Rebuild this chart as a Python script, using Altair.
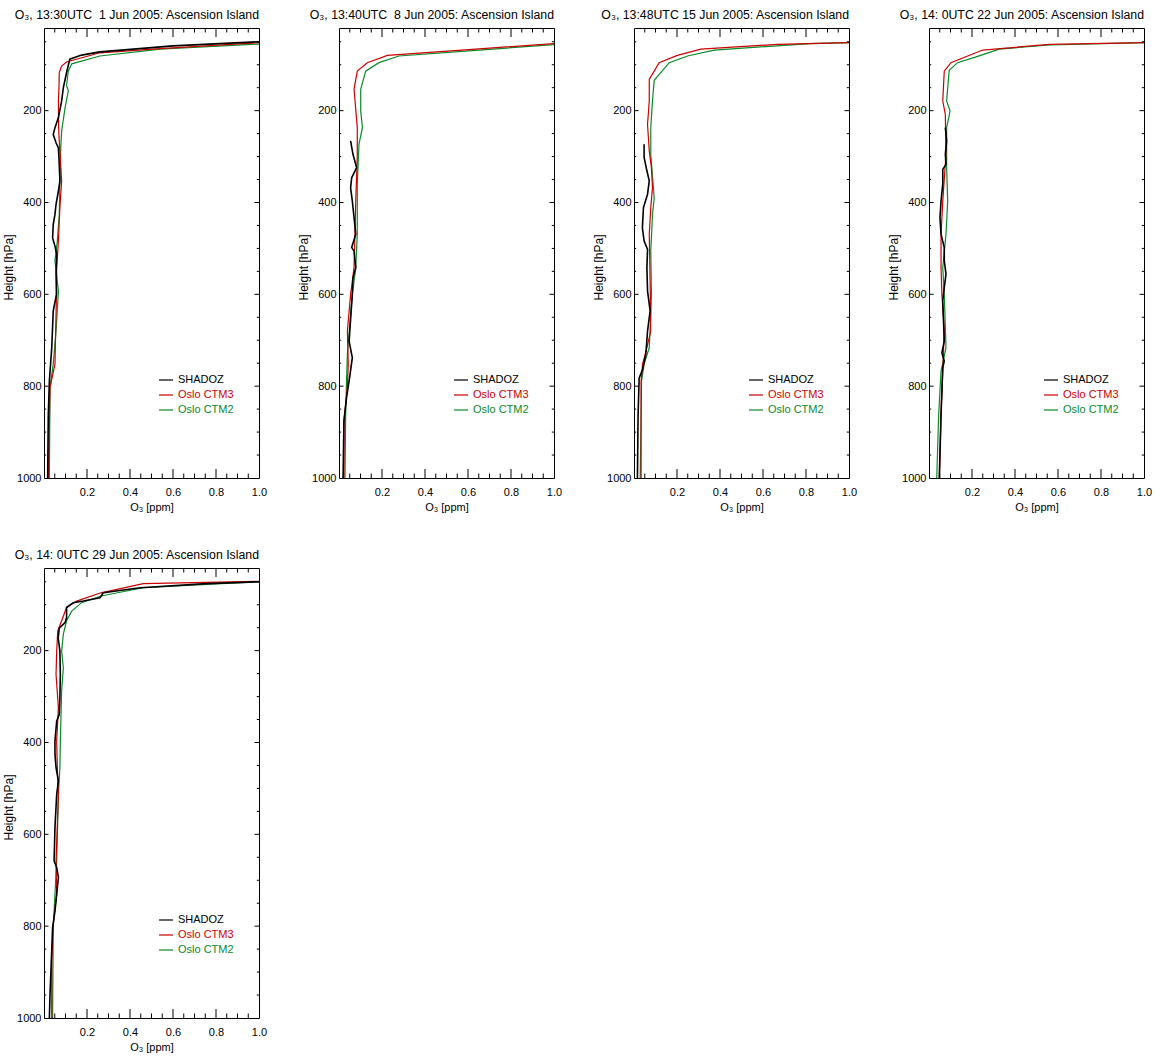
import altair as alt
import pandas as pd

FONT = "Liberation Sans"
SERIES = ["SHADOZ", "Oslo CTM3", "Oslo CTM2"]
COLORS = ["#000000", "#cc0000", "#0a8a2a"]
LINE_WIDTHS = [1.6, 1.2, 1.2]

# day numbers are right-aligned in a two-character field, hence the padded space
TITLES = [
    "O\u2083, 13:30UTC \u00a01 Jun 2005: Ascension Island",
    "O\u2083, 13:40UTC \u00a08 Jun 2005: Ascension Island",
    "O\u2083, 13:48UTC 15 Jun 2005: Ascension Island",
    "O\u2083, 14: 0UTC 22 Jun 2005: Ascension Island",
    "O\u2083, 14: 0UTC 29 Jun 2005: Ascension Island",
]

X_MAJOR = [0.2, 0.4, 0.6, 0.8]
X_MINOR = [0.05, 0.1, 0.15, 0.25, 0.3, 0.35, 0.45, 0.5, 0.55,
           0.65, 0.7, 0.75, 0.85, 0.9, 0.95]
X_LABELS = [0.2, 0.4, 0.6, 0.8, 1.0]
Y_MAJOR = [200, 400, 600, 800]
Y_MINOR = [50, 100, 150, 250, 300, 350, 450, 500, 550, 650, 700, 750,
           850, 900, 950]
Y_LABELS = [200, 400, 600, 800, 1000]

# ---- 1 Jun 2005 ----
p1_shadoz_hpa = [50, 59, 72, 79, 88, 117, 150, 179, 215, 237, 252, 270, 281, 317,
                 353, 375, 404, 426, 448, 477, 495, 513, 556, 600, 636, 716, 789, 861, 1000]
p1_shadoz_o3 = [1.0, 0.60, 0.26, 0.175, 0.12, 0.105, 0.09, 0.082, 0.067, 0.051, 0.043,
                0.056, 0.067, 0.071, 0.074, 0.067, 0.056, 0.051, 0.043, 0.040, 0.051,
                0.059, 0.056, 0.058, 0.043, 0.036, 0.025, 0.020, 0.017]
p1_ctm3_hpa = [52, 65, 74, 94, 103, 117, 143, 179, 237, 266, 353, 411, 484, 542, 600,
               752, 803, 1000]
p1_ctm3_o3 = [1.0, 0.54, 0.26, 0.105, 0.082, 0.071, 0.070, 0.067, 0.068, 0.071, 0.082,
              0.074, 0.067, 0.059, 0.058, 0.051, 0.028, 0.020]
p1_ctm2_hpa = [55, 66, 81, 98, 114, 145, 157, 194, 244, 281, 353, 426, 484, 527, 593,
               680, 752, 803, 1000]
p1_ctm2_o3 = [1.0, 0.54, 0.26, 0.129, 0.113, 0.105, 0.113, 0.098, 0.082, 0.078, 0.074,
              0.071, 0.062, 0.051, 0.067, 0.056, 0.043, 0.028, 0.025]

# ---- 8 Jun 2005 ----
p2_shadoz_hpa = [266, 295, 324, 346, 368, 397, 433, 469, 498, 506, 542, 564, 600, 702,
                 738, 789, 825, 876, 1000]
p2_shadoz_o3 = [0.054, 0.065, 0.082, 0.059, 0.054, 0.062, 0.070, 0.078, 0.059, 0.070,
                0.078, 0.065, 0.062, 0.047, 0.062, 0.047, 0.035, 0.023, 0.019]
p2_ctm3_hpa = [54, 66, 79.5, 95.5, 114, 153, 237, 300, 397, 469, 542, 600, 680, 752,
               803, 876, 1000]
p2_ctm3_o3 = [1.0, 0.636, 0.225, 0.132, 0.085, 0.070, 0.085, 0.085, 0.078, 0.074, 0.070,
              0.054, 0.039, 0.043, 0.039, 0.023, 0.023]
p2_ctm2_hpa = [56, 68.6, 81, 95.5, 114, 153.5, 201, 237, 273, 360, 469, 542, 600, 644,
               731, 789, 862, 1000]
p2_ctm2_o3 = [1.0, 0.636, 0.279, 0.186, 0.124, 0.101, 0.101, 0.109, 0.093, 0.085, 0.085,
              0.078, 0.062, 0.054, 0.039, 0.035, 0.031, 0.028]

# ---- 15 Jun 2005 ----
p3_shadoz_hpa = [273, 302, 331, 353, 382, 411, 455, 484, 502, 542, 593, 636, 680, 731,
                 764, 782, 862, 1000]
p3_shadoz_o3 = [0.047, 0.047, 0.060, 0.071, 0.063, 0.044, 0.039, 0.047, 0.063, 0.060,
                0.063, 0.075, 0.063, 0.055, 0.040, 0.024, 0.019, 0.016]
p3_ctm3_hpa = [52, 55.6, 66, 79.5, 95.5, 114, 132, 179, 230, 288, 324, 368, 411, 469,
               600, 680, 716, 752, 789, 1000]
p3_ctm3_o3 = [1.0, 0.667, 0.311, 0.202, 0.117, 0.094, 0.071, 0.071, 0.063, 0.071, 0.081,
              0.086, 0.078, 0.071, 0.076, 0.078, 0.060, 0.040, 0.033, 0.033]
p3_ctm2_hpa = [52, 54, 68, 81, 95.5, 134, 179, 237, 295, 390, 426, 506, 600, 644, 716,
               752, 789, 1000]
p3_ctm2_o3 = [1.0, 0.82, 0.373, 0.249, 0.164, 0.094, 0.086, 0.078, 0.078, 0.094, 0.086,
              0.078, 0.081, 0.078, 0.071, 0.047, 0.035, 0.029]

# ---- 22 Jun 2005 ----
p4_shadoz_hpa = [237, 266, 295, 317, 328, 360, 397, 433, 469, 498, 527, 556, 585, 614,
                 702, 727, 745, 760, 862, 1000]
p4_shadoz_o3 = [0.076, 0.082, 0.076, 0.079, 0.064, 0.064, 0.056, 0.051, 0.056, 0.071,
                0.071, 0.079, 0.071, 0.064, 0.071, 0.060, 0.071, 0.064, 0.056, 0.048]
p4_ctm3_hpa = [52, 55.6, 68, 95.5, 114, 179, 208, 295, 397, 469, 542, 600, 680, 767,
               862, 1000]
p4_ctm3_o3 = [1.0, 0.56, 0.25, 0.102, 0.071, 0.064, 0.076, 0.079, 0.064, 0.056, 0.056,
              0.060, 0.071, 0.064, 0.056, 0.048]
p4_ctm2_hpa = [52, 57, 66, 83, 95.5, 112, 150, 179, 201, 237, 324, 397, 469, 542, 600,
               716, 767, 862, 1000]
p4_ctm2_o3 = [1.0, 0.56, 0.327, 0.219, 0.133, 0.094, 0.087, 0.082, 0.098, 0.082, 0.082,
              0.087, 0.079, 0.064, 0.071, 0.079, 0.056, 0.045, 0.036]

# ---- 29 Jun 2005 ----
p5_shadoz_hpa = [50, 54, 63, 74, 85, 92, 95.5, 106, 128, 139, 151, 172, 201, 252, 302,
                 339, 353, 397, 426, 455, 484, 513, 585, 658, 672, 694, 767, 803, 949, 1000]
p5_shadoz_o3 = [1.0, 0.757, 0.447, 0.276, 0.26, 0.183, 0.136, 0.105, 0.105, 0.098,
                0.071, 0.066, 0.074, 0.076, 0.074, 0.071, 0.059, 0.051, 0.051, 0.056,
                0.067, 0.059, 0.051, 0.047, 0.059, 0.067, 0.051, 0.040, 0.028, 0.025]
p5_ctm3_hpa = [49, 54, 74, 92, 106, 135, 157, 201, 252, 324, 397, 455, 513, 658, 731,
               796, 876, 1000]
p5_ctm3_o3 = [1.0, 0.462, 0.265, 0.152, 0.105, 0.082, 0.064, 0.059, 0.056, 0.067, 0.059,
              0.062, 0.067, 0.056, 0.059, 0.043, 0.036, 0.036]
p5_ctm2_hpa = [50, 63, 81, 95.5, 114, 135, 164, 201, 237, 288, 397, 455, 513, 658, 731,
               803, 1000]
p5_ctm2_o3 = [1.0, 0.462, 0.265, 0.175, 0.129, 0.105, 0.090, 0.082, 0.090, 0.082, 0.076,
              0.074, 0.067, 0.059, 0.051, 0.043, 0.040]

PANELS = [
    (TITLES[0], [(p1_shadoz_hpa, p1_shadoz_o3), (p1_ctm3_hpa, p1_ctm3_o3), (p1_ctm2_hpa, p1_ctm2_o3)]),
    (TITLES[1], [(p2_shadoz_hpa, p2_shadoz_o3), (p2_ctm3_hpa, p2_ctm3_o3), (p2_ctm2_hpa, p2_ctm2_o3)]),
    (TITLES[2], [(p3_shadoz_hpa, p3_shadoz_o3), (p3_ctm3_hpa, p3_ctm3_o3), (p3_ctm2_hpa, p3_ctm2_o3)]),
    (TITLES[3], [(p4_shadoz_hpa, p4_shadoz_o3), (p4_ctm3_hpa, p4_ctm3_o3), (p4_ctm2_hpa, p4_ctm2_o3)]),
    (TITLES[4], [(p5_shadoz_hpa, p5_shadoz_o3), (p5_ctm3_hpa, p5_ctm3_o3), (p5_ctm2_hpa, p5_ctm2_o3)]),
]

W, H = 215, 450
X_TICK_MAJOR, X_TICK_MINOR = 9, 4.5
Y_TICK_MAJOR, Y_TICK_MINOR = 4.5, 2.2

x_scale = alt.Scale(domain=[0, 1], nice=False, zero=False)
y_scale = alt.Scale(domain=[20, 1000], reverse=True, nice=False, zero=False)

x_axis = alt.Axis(
    values=X_LABELS, format=".1f", title="O\u2083 [ppm]", grid=False, ticks=False,
    tickSize=0, domain=False, labelFlush=False, labelOverlap=False, labelPadding=8,
    labelFontSize=11, titleFontSize=11, titlePadding=4,
)
y_axis = alt.Axis(
    values=Y_LABELS, format="d", title="Height [hPa]", grid=False, ticks=False,
    tickSize=0, domain=False, labelOverlap=False, labelPadding=3,
    labelFontSize=11, titleFontSize=12, titlePadding=1, titleY=H / 2 + 14,
)

label_color = " : ".join(
    f"datum.value === '{s}' ? '{c}'" for s, c in zip(SERIES[:-1], COLORS[:-1])
) + f" : '{COLORS[-1]}'"

legend = alt.Legend(
    title=None, orient="none", legendX=114, legendY=344, padding=0,
    symbolType="stroke", symbolSize=196, symbolStrokeWidth=1.2,
    labelFontSize=11, labelFont=FONT, labelOffset=4, rowPadding=2,
    labelColor={"expr": label_color},
)
color = alt.Color("series:N", scale=alt.Scale(domain=SERIES, range=COLORS), legend=legend)


def tick_layer(values, channel, length, far_side):
    """Inward-pointing tick marks along one side of the frame."""
    data = pd.DataFrame({"v": values})
    base = alt.Chart(data).mark_rule(color="black", strokeWidth=1)
    if channel == "x":
        start = 0 if far_side else H
        end = length if far_side else H - length
        return base.encode(x=alt.X("v:Q", scale=x_scale, axis=x_axis),
                           y=alt.value(start), y2=alt.value(end))
    start = W if far_side else 0
    end = W - length if far_side else length
    return base.encode(y=alt.Y("v:Q", scale=y_scale, axis=y_axis),
                       x=alt.value(start), x2=alt.value(end))


def panel(title, profiles):
    rows = []
    for name, (hpa, o3) in zip(SERIES, profiles):
        for i, (p, v) in enumerate(zip(hpa, o3)):
            rows.append({"series": name, "hpa": p, "o3": v, "i": i})
    df = pd.DataFrame(rows)

    lines = []
    for k in (2, 1, 0):
        lines.append(
            alt.Chart(df)
            .transform_filter(alt.datum.series == SERIES[k])
            .mark_line(clip=True, strokeWidth=LINE_WIDTHS[k])
            .encode(
                x=alt.X("o3:Q", scale=x_scale, axis=x_axis),
                y=alt.Y("hpa:Q", scale=y_scale, axis=y_axis),
                color=color,
                order="i:Q",
            )
        )

    ticks = []
    for far in (False, True):
        ticks.append(tick_layer(X_MAJOR, "x", X_TICK_MAJOR, far))
        ticks.append(tick_layer(X_MINOR, "x", X_TICK_MINOR, far))
        ticks.append(tick_layer(Y_MAJOR, "y", Y_TICK_MAJOR, far))
        ticks.append(tick_layer(Y_MINOR, "y", Y_TICK_MINOR, far))

    return alt.layer(*lines, *ticks).properties(
        width=W, height=H,
        title=alt.TitleParams(title, anchor="end", frame="group", fontSize=12.3,
                              fontWeight="normal", font=FONT, color="black", offset=6),
    )


chart = (
    alt.concat(*[panel(t, p) for t, p in PANELS], columns=4,
               spacing={"row": 35, "column": 29})
    .resolve_scale(color="independent")
    .properties(padding={"left": 2, "top": 8, "right": 2, "bottom": 2})
    .configure(font=FONT)
    .configure_view(stroke="black", strokeWidth=1)
    .configure_axis(labelFont=FONT, titleFont=FONT, labelColor="black",
                    titleColor="black", titleFontWeight="normal")
)

chart.save("out.html", embed_options={"renderer": "svg", "actions": False})
